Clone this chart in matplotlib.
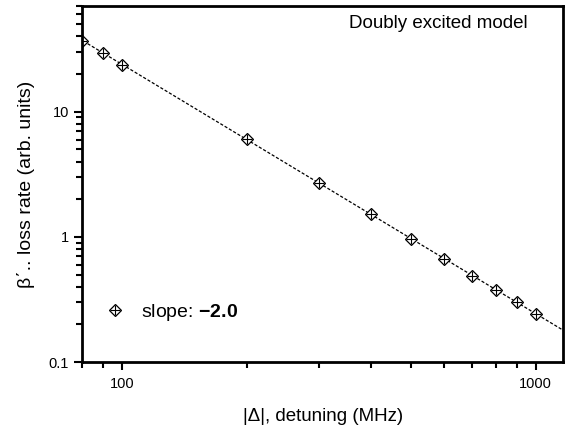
import numpy as np
import matplotlib
matplotlib.use("Agg")
import matplotlib.pyplot as plt
from matplotlib.legend_handler import HandlerTuple

plt.rcParams['font.family'] = ['Liberation Sans', 'DejaVu Sans']
plt.rcParams['mathtext.fontset'] = 'custom'
plt.rcParams['mathtext.rm'] = 'Liberation Sans'
plt.rcParams['mathtext.bf'] = 'Liberation Sans:bold'

# data
detuning = np.array([80, 90, 100, 200, 300, 400, 500, 600, 700, 800, 900, 1000])
loss_rate = np.array([37.0, 29.3, 23.8, 6.05, 2.70, 1.53, 0.97, 0.67, 0.49, 0.38, 0.30, 0.243])

# power-law fit in log-log
p = np.polyfit(np.log10(detuning), np.log10(loss_rate), 1)
xfit = np.logspace(np.log10(75), np.log10(1300), 100)
yfit = 10**np.polyval(p, np.log10(xfit))

fig = plt.figure(figsize=(5.66, 4.26), dpi=100)
ax = fig.add_axes([0.145, 0.150, 0.850, 0.836])

ax.plot(xfit, yfit, color='black', linestyle=(0, (2.5, 1.5)), linewidth=0.9)
m1, = ax.plot(detuning, loss_rate, linestyle='none', marker='D', markersize=6.5,
              markerfacecolor='white', markeredgecolor='black', markeredgewidth=0.9)
m2, = ax.plot(detuning, loss_rate, linestyle='none', marker='+', markersize=7,
              color='black', markeredgewidth=0.8)

ax.set_xscale('log')
ax.set_yscale('log')
ax.set_xlim(80, 1165)
ax.set_ylim(0.1, 70)

ax.set_xticks([100, 1000])
ax.set_xticklabels(['100', '1000'])
ax.set_yticks([0.1, 1, 10])
ax.set_yticklabels(['0.1', '1', '10'])

for s in ax.spines.values():
    s.set_linewidth(2)
ax.tick_params(which='both', direction='out', top=False, right=False, labelsize=10.5, width=1.5)
ax.tick_params(which='major', length=6)
ax.tick_params(which='minor', length=4)
ax.tick_params(axis='x', pad=5)

ax.set_xlabel('|Δ|, detuning (MHz)', fontsize=13.5, labelpad=12)
ax.set_ylabel('β΄.. loss rate (arb. units)', fontsize=14, labelpad=10)

ax.text(0.927, 0.975, 'Doubly excited model', transform=ax.transAxes,
        ha='right', va='top', fontsize=13.5)

ax.legend([(m1, m2)], [r'slope: $\mathbf{-2.0}$'], handler_map={tuple: HandlerTuple(ndivide=1)},
          loc='center left', bbox_to_anchor=(0.032, 0.14), borderaxespad=0, frameon=False,
          fontsize=14, handlelength=1.0, handletextpad=0.85)

fig.savefig('out.png', dpi=100)
